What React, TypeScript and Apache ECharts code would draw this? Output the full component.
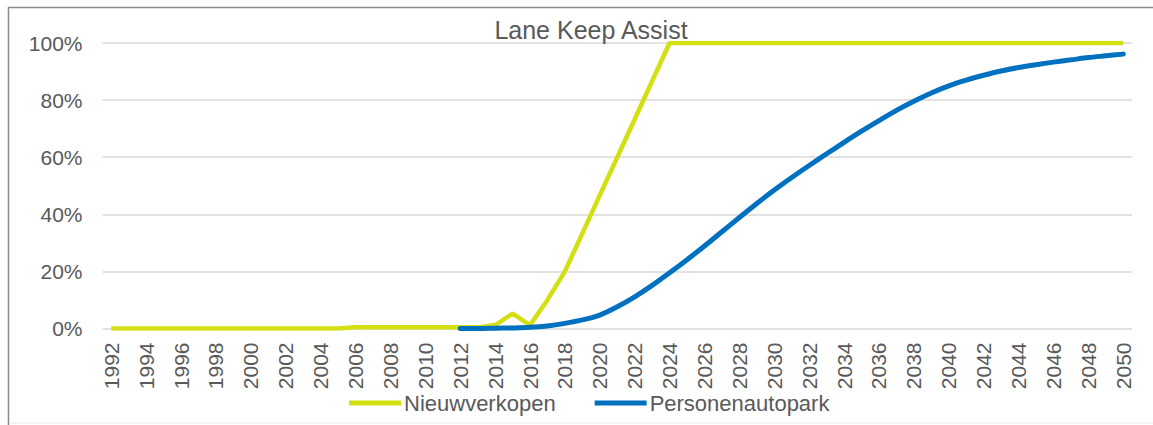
import React, { useEffect, useRef } from "react";
import * as echarts from "echarts";

const years: string[] = [];
for (let y = 1992; y <= 2050; y++) years.push(String(y));

// Nieuwverkopen 1992..2050
const nieuwverkopen: number[] = [
  0, 0, 0, 0, 0, 0, 0, 0, 0, 0, 0, 0, 0, 0, // 1992-2005
  0.4, 0.4, 0.4, 0.4, 0.4, 0.4, 0.4, 0.4, // 2006-2013
  1.2, 5.2, 1.2, 10, 20, 33.3, 46.7, 60, 73.3, 86.7, // 2014-2023
  100, 100, 100, 100, 100, 100, 100, 100, 100, 100, 100, 100, 100, 100, // 2024-2037
  100, 100, 100, 100, 100, 100, 100, 100, 100, 100, 100, 100, 100, // 2038-2050
];

// Personenautopark 1992..2050 (null before 2012)
const personenautopark: (number | null)[] = [
  null, null, null, null, null, null, null, null, null, null,
  null, null, null, null, null, null, null, null, null, null, // 1992-2011
  0, 0, 0.1, 0.2, 0.4, 0.9, 1.8, 3.0, 4.7, 7.6, // 2012-2021
  11.1, 15.1, 19.5, 24.1, 28.9, 33.9, 38.9, 43.8, 48.5, 52.9, // 2022-2031
  57.1, 61.2, 65.2, 69.1, 72.8, 76.4, 79.6, 82.5, 85.0, 87.0, // 2032-2041
  88.7, 90.2, 91.4, 92.4, 93.3, 94.1, 94.9, 95.5, 96.1, // 2042-2050
];

const seriesNames = ["Nieuwverkopen", "Personenautopark"];
const titleText = "Lane Keep Assist";

export default function App() {
  const ref = useRef<HTMLDivElement>(null);
  useEffect(() => {
    if (!ref.current) return;
    const chart = echarts.init(ref.current, undefined, { renderer: "svg" });
    const font = "'Liberation Sans', Arial, sans-serif";
    const gray = "#595959";
    chart.setOption({
      animation: false,
      backgroundColor: "#ffffff",
      title: {
        text: titleText,
        left: 591,
        textAlign: "center",
        top: 17,
        padding: 0,
        textStyle: { fontFamily: font, fontSize: 25, fontWeight: "normal", color: gray },
      },
      legend: {
        data: seriesNames,
        left: 349,
        top: 392,
        padding: 0,
        icon: "rect",
        itemWidth: 52,
        itemHeight: 5,
        itemGap: 39,
        textStyle: { fontFamily: font, fontSize: 22, color: gray, padding: [0, 0, 0, -2] },
      },
      grid: { left: 102.5, right: 21, top: 43, bottom: 96.5, containLabel: false },
      xAxis: {
        type: "category",
        data: years,
        boundaryGap: true,
        axisLine: { show: false },
        axisTick: { show: false },
        axisLabel: {
          interval: 1,
          rotate: 90,
          margin: 14,
          fontFamily: font,
          fontSize: 21,
          color: gray,
        },
      },
      yAxis: {
        type: "value",
        min: 0,
        max: 100,
        interval: 20,
        axisLine: { show: false },
        axisTick: { show: false },
        splitLine: { lineStyle: { color: "#d9d9d9", width: 1.5 } },
        axisLabel: {
          formatter: "{value}%",
          margin: 20,
          fontFamily: font,
          fontSize: 21,
          color: gray,
        },
      },
      graphic: [
        { type: "line", shape: { x1: 8.5, y1: 7, x2: 8.5, y2: 425 }, style: { stroke: "#8c8c8c", lineWidth: 1.5 } },
        { type: "line", shape: { x1: 8, y1: 7.5, x2: 1153, y2: 7.5 }, style: { stroke: "#8c8c8c", lineWidth: 1.5 } },
        { type: "line", shape: { x1: 9, y1: 423, x2: 1153, y2: 423 }, style: { stroke: "#e8e8e8", lineWidth: 1 } },
      ],
      series: [
        {
          name: seriesNames[0],
          type: "line",
          data: nieuwverkopen,
          symbol: "none",
          lineStyle: { color: "#d4df12", width: 4.5 },
          itemStyle: { color: "#d4df12" },
          z: 2,
        },
        {
          name: seriesNames[1],
          type: "line",
          data: personenautopark,
          symbol: "none",
          smooth: 0.3,
          lineStyle: { color: "#0070c0", width: 5, cap: "round" },
          itemStyle: { color: "#0070c0" },
          z: 3,
        },
      ],
    });
    return () => chart.dispose();
  }, []);
  return (
    <div
      ref={ref}
      style={{ position: "absolute", left: 0, top: 0, width: 1153, height: 425 }}
    />
  );
}
